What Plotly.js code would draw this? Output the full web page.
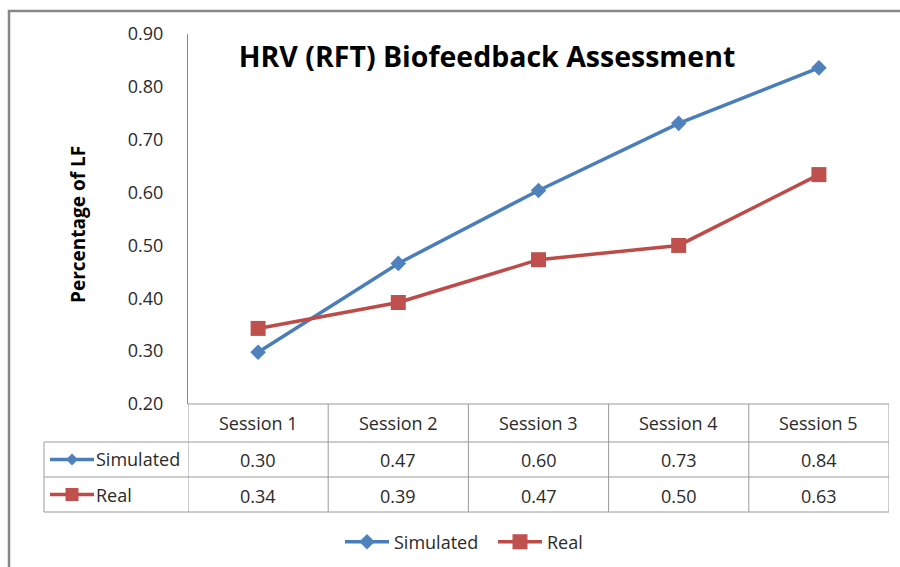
<!DOCTYPE html>
<html>
<head>
<meta charset="utf-8">
<script src="https://cdn.plot.ly/plotly-3.0.1.min.js"></script>
<style>html,body{margin:0;padding:0;background:#fff;}#chart{width:900px;height:567px;}</style>
</head>
<body>
<div id="chart"></div>
<script>
// ---- data ----
const sessions = ['Session 1', 'Session 2', 'Session 3', 'Session 4', 'Session 5'];
const simulated = [0.298, 0.466, 0.604, 0.731, 0.836];
const real = [0.343, 0.392, 0.473, 0.500, 0.634];
const seriesNames = ['Simulated', 'Real'];
const yTickVals = [0.2, 0.3, 0.4, 0.5, 0.6, 0.7, 0.8, 0.9];
const yTickText = ['0.20', '0.30', '0.40', '0.50', '0.60', '0.70', '0.80', '0.90'];

// ---- styling ----
const FONT = '"Open Sans", Lato, sans-serif';
const FS = 18;
const BLUE = '#4A7EBB', BLUE_M = '#4F81BD';
const RED = '#BE4B48', RED_M = '#C0504D';
const GRID = '#9a9a9a';
const TXT = '#2a2a2a';

// plot area: x 188..889 px, y 34..404 px
const plotL = 188, plotR = 889, plotT = 34, plotB = 404;
const W = plotR - plotL, H = plotB - plotT;
const px = v => (v - plotL) / W;          // pixel -> paper x
const py = v => (plotB - v) / H;          // pixel -> paper y

const rowTop = [404, 442, 477, 512];
const traces = [
  {x: sessions, y: simulated, name: seriesNames[0], type: 'scatter', mode: 'lines+markers',
   line: {color: BLUE, width: 3.5}, marker: {symbol: 'diamond', size: 12, color: BLUE_M}},
  {x: sessions, y: real, name: seriesNames[1], type: 'scatter', mode: 'lines+markers',
   line: {color: RED, width: 3.5}, marker: {symbol: 'square', size: 15, color: RED_M}}
];

const shapes = [];
const ann = [];
// outer frame
shapes.push({type: 'rect', xref: 'paper', yref: 'paper', x0: px(9), x1: px(910), y0: py(11), y1: py(580),
  line: {color: '#878787', width: 2.5}, fillcolor: 'rgba(0,0,0,0)', layer: 'below'});
// table horizontal lines
shapes.push({type: 'line', xref: 'paper', yref: 'paper', x0: 0, x1: 1, y0: py(rowTop[0]), y1: py(rowTop[0]), line: {color: GRID, width: 1}});
for (let r = 1; r < rowTop.length; r++) {
  shapes.push({type: 'line', xref: 'paper', yref: 'paper', x0: px(44), x1: 1, y0: py(rowTop[r]), y1: py(rowTop[r]), line: {color: GRID, width: 1}});
}
// table vertical lines (category boundaries)
for (let i = 0; i <= sessions.length; i++) {
  shapes.push({type: 'line', xref: 'x', yref: 'paper', x0: i - 0.5, x1: i - 0.5, y0: py(rowTop[0]), y1: py(rowTop[3]), line: {color: GRID, width: 1}});
}
shapes.push({type: 'line', xref: 'paper', yref: 'paper', x0: px(44), x1: px(44), y0: py(rowTop[1]), y1: py(rowTop[3]), line: {color: GRID, width: 1}});

// header cells
const mid = (a, b) => py((a + b) / 2);
const TS = -1; // text shift
sessions.forEach((s, i) => {
  ann.push({xref: 'x', yref: 'paper', x: s, y: mid(rowTop[0], rowTop[1]), yshift: 0, text: s, showarrow: false,
    font: {family: FONT, size: FS, color: TXT}, xanchor: 'center', yanchor: 'middle'});
});
// value cells
[simulated, real].forEach((arr, r) => {
  arr.forEach((v, i) => {
    ann.push({xref: 'x', yref: 'paper', x: sessions[i], y: mid(rowTop[r + 1], rowTop[r + 2]), yshift: TS, text: v.toFixed(2), showarrow: false,
      font: {family: FONT, size: FS, color: TXT}, xanchor: 'center', yanchor: 'middle'});
  });
});
// row labels with keys
const keyColors = [[BLUE, BLUE_M], [RED, RED_M]];
seriesNames.forEach((n, r) => {
  const yc = mid(rowTop[r + 1], rowTop[r + 2]);
  shapes.push({type: 'line', xref: 'paper', yref: 'paper', x0: px(50), x1: px(94), y0: yc, y1: yc, line: {color: keyColors[r][0], width: 3.5}});
  const path = r === 0 ? 'M0,6 L6,0 L0,-6 L-6,0 Z' : 'M-6.5,-6.5 L6.5,-6.5 L6.5,6.5 L-6.5,6.5 Z';
  shapes.push({type: 'path', xref: 'paper', yref: 'paper', xsizemode: 'pixel', ysizemode: 'pixel',
    xanchor: px(72), yanchor: yc, path: path, fillcolor: keyColors[r][1], line: {width: 0}});
  ann.push({xref: 'paper', yref: 'paper', x: px(94), y: yc, yshift: 0, text: n, showarrow: false,
    font: {family: FONT, size: FS, color: TXT}, xanchor: 'left', yanchor: 'middle'});
});
// y axis title
ann.push({xref: 'paper', yref: 'paper', x: px(78), y: py(225), text: '<b>Percentage of LF</b>', textangle: -90,
  showarrow: false, font: {family: FONT, size: 19, color: '#000'}, xanchor: 'center', yanchor: 'middle'});

const layout = {
  width: 900, height: 567,
  margin: {l: plotL, r: 900 - plotR, t: plotT, b: 567 - plotB, autoexpand: false},
  paper_bgcolor: '#fff', plot_bgcolor: '#fff',
  showlegend: true,
  title: {text: '<b>HRV (RFT) Biofeedback Assessment</b>', font: {family: FONT, size: 28.5, color: '#000'},
    xref: 'container', yref: 'container', x: 487 / 900, y: 1 - 57 / 567, xanchor: 'center', yanchor: 'middle'},
  xaxis: {type: 'category', range: [-0.5, 4.5], showticklabels: false, showgrid: false, zeroline: false, showline: false, ticks: '', automargin: false},
  yaxis: {range: [0.2, 0.9], tickvals: yTickVals, ticktext: yTickText, showgrid: false, zeroline: false,
    showline: true, linecolor: '#878787', linewidth: 1, ticks: '', ticklabelstandoff: 20, automargin: false,
    tickfont: {family: FONT, size: FS, color: TXT}},
  legend: {orientation: 'h', x: px(340), y: py(542), xanchor: 'left', yanchor: 'middle',
    entrywidth: 94, entrywidthmode: 'pixels', itemwidth: 44,
    font: {family: FONT, size: FS, color: TXT}, bgcolor: 'rgba(0,0,0,0)'},
  shapes: shapes,
  annotations: ann
};

Plotly.newPlot('chart', traces, layout, {displayModeBar: false, staticPlot: true});
</script>
</body>
</html>
